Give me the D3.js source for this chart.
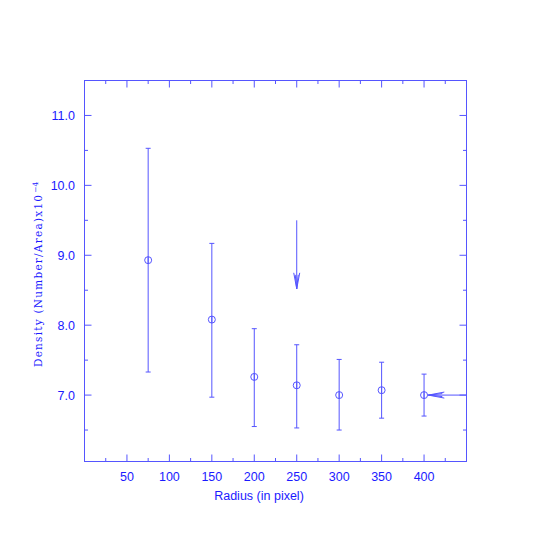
<!DOCTYPE html>
<html><head><meta charset="utf-8">
<script src="https://cdn.jsdelivr.net/npm/d3@7"></script>
<style>body{margin:0;background:#fff}svg{display:block}</style>
</head><body><svg id="c" width="545" height="545"></svg>
<script>
const radius = [75, 150, 200, 250, 300, 350, 400];
const density = [8.93, 8.08, 7.26, 7.14, 7.00, 7.07, 7.00];
const errLow = [7.33, 6.97, 6.55, 6.53, 6.50, 6.67, 6.70];
const errHigh = [10.53, 9.17, 7.95, 7.72, 7.51, 7.47, 7.30];
const xTickLabels = [50, 100, 150, 200, 250, 300, 350, 400];
const yTickLabels = [7.0, 8.0, 9.0, 10.0, 11.0];
const arrowV = {x: 250, from: 9.5, to: 8.52};
const arrowH = {y: 7.0, from: 450, to: 405};

const svg = d3.select("#c");
const col = "#5555ff", textCol = "#1a1aff";
const L = 84.5, R = 466.5, T = 80.5, B = 461.5;
const x = d3.scaleLinear().domain([0, 450]).range([L, R]);
const y = d3.scaleLinear().domain([6.05, 11.5]).range([B, T]);

const g = svg.append("g").attr("stroke", col).attr("stroke-width", 1).attr("fill", "none");
g.append("rect").attr("x", L).attr("y", T).attr("width", R - L).attr("height", B - T);

// x ticks
const xMinor = d3.range(25, 450, 25);
xMinor.forEach(v => {
  const len = v % 50 === 0 ? 7 : 3.5;
  g.append("line").attr("x1", x(v)).attr("x2", x(v)).attr("y1", B).attr("y2", B - len);
  g.append("line").attr("x1", x(v)).attr("x2", x(v)).attr("y1", T).attr("y2", T + len);
});
// y ticks
const yMinor = d3.range(6.5, 11.5, 0.5);
yMinor.forEach(v => {
  const len = Math.abs(v - Math.round(v)) < 1e-6 ? 7 : 3.5;
  g.append("line").attr("y1", y(v)).attr("y2", y(v)).attr("x1", L).attr("x2", L + len);
  g.append("line").attr("y1", y(v)).attr("y2", y(v)).attr("x1", R).attr("x2", R - len);
});

const tg = svg.append("g").attr("fill", textCol)
  .attr("font-family", "Liberation Sans, Arial, sans-serif").attr("font-size", 12.5);
tg.selectAll(".xl").data(xTickLabels).enter().append("text")
  .attr("x", d => x(d)).attr("y", 481).attr("text-anchor", "middle").text(d => d);
tg.selectAll(".yl").data(yTickLabels).enter().append("text")
  .attr("x", 75).attr("y", d => y(d) + 4.5).attr("text-anchor", "end").text(d => d.toFixed(1));
tg.append("text").attr("x", 259).attr("y", 500).attr("text-anchor", "middle").text("Radius (in pixel)");

const yl = svg.append("text").attr("transform", "translate(42,367) rotate(-90)")
  .attr("fill", textCol).attr("font-family", "DejaVu Serif, serif").attr("font-size", 10.5)
  .attr("text-anchor", "start");
yl.append("tspan").attr("textLength", 172).attr("lengthAdjust", "spacing").text("Density (Number/Area)x10");
yl.append("tspan").attr("dy", -4).attr("dx", 1).attr("font-size", 7.5).text("−4");

// error bars
const pts = radius.map((r, i) => ({r, d: density[i], lo: errLow[i], hi: errHigh[i]}));
const eg = svg.append("g").attr("stroke", col).attr("stroke-width", 1).attr("fill", "none");
pts.forEach(p => {
  const cx = x(p.r);
  eg.append("line").attr("x1", cx).attr("x2", cx).attr("y1", y(p.hi)).attr("y2", y(p.d) + 3.5);
  eg.append("line").attr("x1", cx).attr("x2", cx).attr("y1", y(p.d) - 3.5).attr("y2", y(p.lo));
  eg.append("line").attr("x1", cx - 2.5).attr("x2", cx + 2.5).attr("y1", y(p.hi)).attr("y2", y(p.hi));
  eg.append("line").attr("x1", cx - 2.5).attr("x2", cx + 2.5).attr("y1", y(p.lo)).attr("y2", y(p.lo));
  eg.append("circle").attr("cx", cx).attr("cy", y(p.d)).attr("r", 3.5);
});

// arrows
const ag = svg.append("g").attr("stroke", col).attr("stroke-width", 1).attr("fill", "none");
const vx = x(arrowV.x), vy0 = y(arrowV.from), vy1 = y(arrowV.to);
ag.append("line").attr("x1", vx).attr("x2", vx).attr("y1", vy0).attr("y2", vy1);
ag.append("path").attr("d", `M${vx-3},${vy1-16} L${vx},${vy1} L${vx+3},${vy1-16}`);
ag.append("path").attr("d", `M${vx-1.5},${vy1-14} L${vx},${vy1} L${vx+1.5},${vy1-14}`);
const hy = y(arrowH.y), hx0 = x(arrowH.from), hx1 = x(arrowH.to);
ag.append("line").attr("x1", hx0).attr("x2", hx1).attr("y1", hy).attr("y2", hy);
ag.append("path").attr("d", `M${hx1+16},${hy-3} L${hx1},${hy} L${hx1+16},${hy+3}`);
ag.append("path").attr("d", `M${hx1+14},${hy-1.5} L${hx1},${hy} L${hx1+14},${hy+1.5}`);
</script></body></html>
